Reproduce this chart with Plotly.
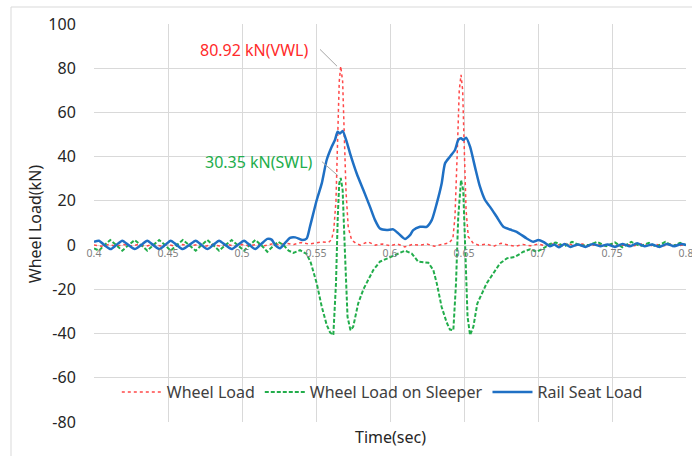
import plotly.graph_objects as go

# ---------------- data ----------------
wl_time = [0.400, 0.405, 0.410, 0.415, 0.420, 0.425, 0.430, 0.435, 0.440, 0.445,
           0.450, 0.455, 0.460, 0.465, 0.470, 0.475, 0.480, 0.485, 0.490, 0.495,
           0.500, 0.505, 0.510, 0.515, 0.520, 0.525, 0.530, 0.535, 0.540, 0.545,
           0.550, 0.554, 0.5585, 0.5605, 0.5620, 0.5635, 0.5647, 0.5657, 0.5667,
           0.5680, 0.5691, 0.5703, 0.5718, 0.5741, 0.5770, 0.580, 0.585, 0.590,
           0.595, 0.600, 0.605, 0.610, 0.615, 0.620, 0.625, 0.630, 0.635, 0.6400,
           0.6425, 0.6439, 0.6455, 0.6468, 0.6480, 0.6491, 0.6502, 0.6514, 0.6529,
           0.6563, 0.660, 0.665, 0.670, 0.675, 0.680, 0.685, 0.690, 0.695, 0.700,
           0.705, 0.710, 0.715, 0.720, 0.725, 0.730, 0.735, 0.740, 0.745, 0.750,
           0.755, 0.760, 0.765, 0.770, 0.775, 0.780, 0.785, 0.790, 0.795, 0.800]
wl_load = [0.0, -0.5, 0.3, -0.5, 0.3, -0.4, 0.3, -0.5, 0.3, -0.4,
           0.3, -0.5, 0.3, -0.4, 0.3, -0.5, 0.3, -0.4, 0.3, -0.5,
           0.3, -0.4, 0.4, -0.3, 0.5, 0.3, 0.8, 0.3, 1.2, 0.5,
           1.0, 1.5, 1.2, 2.5, 6.8, 20.0, 50.0, 74.0, 80.92,
           74.0, 50.0, 24.0, 8.0, 2.3, 0.8, 0.0, 1.5, 0.0,
           0.5, -0.3, 0.5, -0.8, 0.3, 0.0, 0.5, -0.5, 0.3, 1.0,
           3.0, 12.8, 43.0, 70.0, 77.0, 70.0, 43.0, 15.8, 3.8,
           0.8, 0.0, 0.5, -0.5, 0.8, 0.0, -0.5, 0.3, -0.3, 0.5,
           -0.3, 0.5, 0.0, 0.8, -0.3, 0.5, -0.5, 0.5, -0.3, 0.5,
           -0.5, 0.3, -0.3, 0.5, -0.5, 0.3, -0.3, 0.5, -0.3, 0.3]

wls_time = [0.400, 0.4034, 0.407, 0.411, 0.415, 0.4191, 0.4233, 0.4275, 0.4318, 0.436,
            0.440, 0.444, 0.448, 0.4518, 0.456, 0.460, 0.4643, 0.4687, 0.4727, 0.4766,
            0.4805, 0.4845, 0.4888, 0.493, 0.497, 0.5014, 0.5052, 0.509, 0.513, 0.5171,
            0.521, 0.5245, 0.528, 0.5315, 0.5347, 0.5392, 0.5437, 0.5465, 0.5505, 0.5539,
            0.5572, 0.5595, 0.5617, 0.5635, 0.5647, 0.5657, 0.5667, 0.5680, 0.5695, 0.5713,
            0.5733, 0.5751, 0.5785, 0.582, 0.5887, 0.5932, 0.600, 0.6056, 0.6101, 0.6147,
            0.6191, 0.6259, 0.6293, 0.6316, 0.6349, 0.6383, 0.6405, 0.6428, 0.6446, 0.6461,
            0.648, 0.6495, 0.6511, 0.6524, 0.6541, 0.6563, 0.659, 0.662, 0.6653, 0.6698,
            0.6743, 0.6789, 0.6845, 0.6901, 0.6946, 0.6991, 0.7036, 0.7081, 0.712, 0.718,
            0.723, 0.729, 0.735, 0.740, 0.746, 0.752, 0.757, 0.763, 0.769, 0.775,
            0.780, 0.786, 0.791, 0.796, 0.800]
wls_load = [-1.5, -2.5, 0.0, 2.3, 0.0, -2.5, 0.0, 2.3, 0.0, -2.5,
            0.0, 2.3, 0.0, -2.5, 0.0, 2.3, 0.0, -2.5, 0.0, 2.3,
            0.0, -2.5, 0.0, 2.3, 0.0, -2.5, 0.0, 2.3, 0.0, -3.0,
            -0.5, 1.5, 0.0, -2.5, -3.5, -2.3, -4.0, -8.0, -17.3, -27.9,
            -36.0, -39.5, -40.7, -17.3, 12.8, 27.9, 30.35, 24.9, -2.3, -32.4,
            -38.5, -37.0, -26.4, -20.0, -11.3, -7.5, -5.5, -3.8, -2.5, -3.8,
            -7.5, -8.0, -11.3, -17.3, -28.0, -35.0, -38.2, -38.5, -17.3, 12.8,
            29.4, 24.9, -2.3, -32.4, -40.7, -37.0, -26.4, -21.9, -17.3, -12.8,
            -8.3, -6.0, -5.3, -3.0, -1.9, -3.0, -1.5, 0.5, 1.2, -0.5,
            1.5, -0.3, 0.2, 1.5, -0.5, 1.2, -1.0, 1.5, -0.5, 1.0,
            -0.8, 1.5, -0.5, 1.0, 0.0]

rs_time = [0.400, 0.4034, 0.407, 0.4113, 0.415, 0.4191, 0.4233, 0.4275, 0.4318, 0.436,
           0.440, 0.444, 0.448, 0.4518, 0.456, 0.460, 0.4643, 0.4687, 0.4727, 0.4766,
           0.4805, 0.4845, 0.4888, 0.493, 0.497, 0.5014, 0.5052, 0.509, 0.513, 0.5171,
           0.520, 0.5225, 0.5257, 0.5285, 0.5324, 0.536, 0.541, 0.5437, 0.5459, 0.5505,
           0.5539, 0.5572, 0.5606, 0.5628, 0.5646, 0.5662, 0.568, 0.5707, 0.573, 0.5775,
           0.582, 0.5865, 0.5899, 0.5932, 0.5978, 0.6022, 0.6056, 0.6101, 0.6135, 0.6157,
           0.6203, 0.6248, 0.6282, 0.6316, 0.6349, 0.6372, 0.6405, 0.6439, 0.6461, 0.648,
           0.6495, 0.6514, 0.6541, 0.6574, 0.6608, 0.6642, 0.6676, 0.6721, 0.6766, 0.6822,
           0.6856, 0.6924, 0.6968, 0.7002, 0.7036, 0.7081, 0.711, 0.714, 0.718, 0.722,
           0.727, 0.732, 0.737, 0.742, 0.747, 0.752, 0.757, 0.762, 0.767, 0.772,
           0.777, 0.782, 0.787, 0.792, 0.797, 0.800]
rs_load = [1.5, 2.0, 0.0, -1.8, 0.0, 2.0, 0.0, -1.8, 0.0, 2.0,
           0.0, -1.8, 0.0, 2.0, 0.0, -1.8, 0.0, 2.0, 0.0, -1.8,
           0.0, 2.0, 0.0, -1.8, 0.0, 2.0, 0.0, -1.8, 0.5, 2.8,
           2.5, 0.0, -1.4, 0.5, 3.3, 3.5, 2.3, 3.0, 8.3, 20.4,
           27.9, 38.5, 44.5, 47.5, 51.3, 50.5, 51.6, 46.8, 41.5, 32.4,
           24.9, 17.3, 11.3, 7.5, 6.8, 7.1, 5.3, 2.8, 4.5, 6.8,
           8.3, 8.3, 11.3, 18.9, 27.9, 37.0, 40.0, 43.0, 47.5, 48.3,
           47.5, 48.6, 44.5, 35.4, 26.4, 20.4, 17.3, 12.8, 8.3, 6.8,
           6.0, 3.0, 1.5, 2.3, 1.5, -0.5, 0.3, -1.0, 0.5, -0.8,
           0.3, -0.8, 0.5, -0.5, 0.3, -0.8, 0.5, -0.5, 0.8, -0.5,
           0.3, -0.8, 0.5, -0.5, 0.5, 0.0]

x_tick_vals = [0.4, 0.45, 0.5, 0.55, 0.6, 0.65, 0.7, 0.75, 0.8]
x_tick_text = ["0.4", "0.45", "0.5", "0.55", "0.6", "0.65", "0.7", "0.75", "0.8"]
y_tick_vals = [-80, -60, -40, -20, 0, 20, 40, 60, 80, 100]
y_tick_text = ["-80", "-60", "-40", "-20", "0", "20", "40", "60", "80", "100"]

series_names = ["Wheel Load", "Wheel Load on Sleeper", "Rail Seat Load"]

# ---------------- figure ----------------
FONT = "Noto Sans"
GRID = "#d9d9d9"
TXT = "#404040"

fig = go.Figure()
fig.add_trace(go.Scatter(x=wl_time, y=wl_load, mode="lines", name=series_names[0],
                         line=dict(color="#ff4848", width=1.5, dash="dot")))
fig.add_trace(go.Scatter(x=wls_time, y=wls_load, mode="lines", name=series_names[1],
                         line=dict(color="#22ad4b", width=2, dash="4px,2px")))
fig.add_trace(go.Scatter(x=rs_time, y=rs_load, mode="lines", name=series_names[2],
                         line=dict(color="#1f70c4", width=2.5, shape="spline", smoothing=0.6)))

# peak labels derived from the data
i_v = wl_load.index(max(wl_load))
tv, vv = wl_time[i_v], wl_load[i_v]
i_s = wls_load.index(max(wls_load))
ts, vs = wls_time[i_s], wls_load[i_s]

annotations = [
    dict(x=tv - 0.0207, y=vv + 7.5, xref="x", yref="y", text=f"{vv:.2f} kN(VWL)",
         showarrow=False, xanchor="right", yanchor="middle",
         font=dict(family=FONT, size=16, color="#ff2a2a")),
    dict(x=ts - 0.0174, y=vs + 7.4, xref="x", yref="y", text=f"{vs:.2f} kN(SWL)",
         showarrow=False, xanchor="right", yanchor="middle",
         font=dict(family=FONT, size=16, color="#22ad4b")),
    dict(x=-0.0997, y=0.497, xref="paper", yref="paper", text="Wheel Load(kN)",
         textangle=-90, showarrow=False, xanchor="center", yanchor="middle",
         font=dict(family=FONT, size=16, color="#262626")),
    dict(x=0.5, y=-0.038, xref="paper", yref="paper", text="Time(sec)",
         showarrow=False, xanchor="center", yanchor="middle",
         font=dict(family=FONT, size=16, color="#262626")),
]

shapes = [
    # leader lines
    dict(type="line", xref="x", yref="y", x0=tv - 0.014, y0=vv + 7.6, x1=tv - 0.0025, y1=vv,
         line=dict(color="#a6a6a6", width=1)),
    dict(type="line", xref="x", yref="y", x0=ts - 0.0127, y0=vs + 7.4, x1=ts - 0.0018, y1=vs + 1.0,
         line=dict(color="#a6a6a6", width=1)),
    # white legend box covering gridlines
    dict(type="rect", xref="paper", yref="paper", x0=0.022, x1=0.976, y0=0.0126, y1=0.1407,
         fillcolor="white", line=dict(width=0), layer="between"),
    # outer chart border
    dict(type="line", xref="paper", yref="paper", x0=-0.1402, x1=1.02, y0=1.0427, y1=1.0427,
         line=dict(color="#d9d9d9", width=1)),
    dict(type="line", xref="paper", yref="paper", x0=-0.1402, x1=-0.1402, y0=-0.1, y1=1.0427,
         line=dict(color="#d9d9d9", width=1)),
]

fig.update_layout(
    width=692, height=456, autosize=False,
    margin=dict(l=94, r=6, t=24, b=34, autoexpand=False),
    paper_bgcolor="white", plot_bgcolor="white",
    font=dict(family=FONT, color=TXT),
    showlegend=True,
    legend=dict(orientation="h", x=0.487, xanchor="center", y=0.0754, yanchor="middle",
                bgcolor="rgba(0,0,0,0)", font=dict(family=FONT, size=16, color=TXT),
                itemwidth=40, tracegroupgap=0),
    annotations=annotations,
    shapes=shapes,
    xaxis=dict(range=[0.4, 0.8], tickvals=x_tick_vals, ticktext=x_tick_text,
               anchor="free", position=80 / 180, showgrid=True, gridcolor=GRID, gridwidth=1,
               zeroline=False, showline=False, ticks="", automargin=False,
               ticklabeloverflow="allow",
               tickfont=dict(family=FONT, size=10.5, color="#7f7f7f")),
    yaxis=dict(range=[-80, 100], tickvals=y_tick_vals, ticktext=y_tick_text,
               showgrid=True, gridcolor=GRID, gridwidth=1, zeroline=False, showline=False,
               ticks="outside", ticklen=14, tickcolor="rgba(0,0,0,0)", automargin=False,
               tickfont=dict(family=FONT, size=16, color="#262626")),
)

# remove the default 8px page margin so the figure sits at the window's top-left corner
fig.write_html("out.html", config={"displayModeBar": False},
               post_script="document.body.style.margin='0';")
